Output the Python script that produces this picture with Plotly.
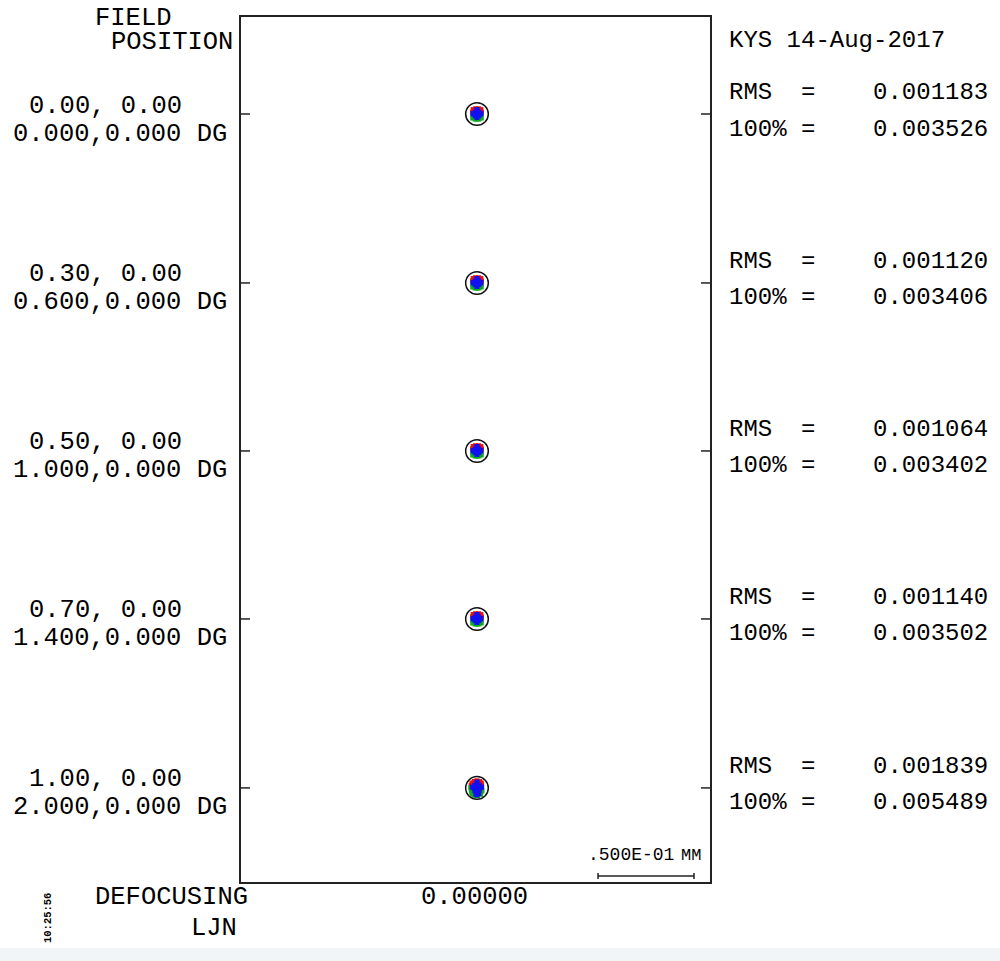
import plotly.graph_objects as go

# ---------------- data ----------------
FIELD_REL = ["0.00, 0.00", "0.30, 0.00", "0.50, 0.00", "0.70, 0.00", "1.00, 0.00"]
FIELD_DEG = ["0.000,0.000 DG", "0.600,0.000 DG", "1.000,0.000 DG", "1.400,0.000 DG", "2.000,0.000 DG"]
RMS_VALUES = ["0.001183", "0.001120", "0.001064", "0.001140", "0.001839"]
FULL_VALUES = ["0.003526", "0.003406", "0.003402", "0.003502", "0.005489"]
FIELD_Y_MM = [0.0, -0.0880, -0.1755, -0.2630, -0.3510]   # image-plane position of each spot
DEFOCUS_LABEL = "0.00000"
AIRY_RADIUS_MM = 0.0059
SCALE_BAR_MM = 0.05
SCALE_BAR_LABEL = ".500E-01"

# spot ray intercepts (microns, relative to spot centre) for fields 1-4
RED_A_X = [-2.0, -0.8, 0.8, 2.0, -2.3, 2.3, -1.0, 1.0, 0.0]
RED_A_Y = [2.3, 2.7, 2.7, 2.3, 1.0, 1.0, 1.6, 1.6, 0.6]
GREEN_A_X = [-2.2, -1.0, 0.0, 1.0, 2.2, -2.1, 2.1]
GREEN_A_Y = [-2.1, -2.6, -2.7, -2.6, -2.1, -0.9, -0.9]
BLUE_A_X = [0.0, -1.6, 1.6, 0.0, 0.0, -0.9, 0.9, -0.9, 0.9, -2.1, 2.1, 0.0]
BLUE_A_Y = [0.0, 0.0, 0.0, 1.8, -1.8, 0.9, 0.9, -0.9, -0.9, 0.2, 0.2, 2.3]
# spot ray intercepts (microns) for the full field
RED_B_X = [-2.6, -1.4, 0.0, 1.4, -3.0, -2.7, 2.4, 2.2]
RED_B_Y = [2.6, 3.4, 3.7, 3.3, 1.2, -0.4, 1.6, 2.6]
GREEN_B_X = [-2.8, -2.3, -1.2, 0.4, 1.9, -3.2, 2.6, -3.0]
GREEN_B_Y = [-2.2, -3.2, -3.9, -4.0, -3.3, 0.2, -1.6, -1.0]
BLUE_B_X = [0.0, -1.6, 1.6, 0.0, 0.0, -1.1, 1.1, -1.1, 1.1, -2.4, 2.4, 0.0, -0.6, 0.9, 0.0]
BLUE_B_Y = [0.0, 0.0, 0.0, 2.2, -2.2, 1.4, 1.4, -1.4, -1.4, 0.4, 0.4, 3.1, -3.2, -2.9, -3.6]

SPOT_SETS = [
    (RED_A_X, RED_A_Y, GREEN_A_X, GREEN_A_Y, BLUE_A_X, BLUE_A_Y),
    (RED_A_X, RED_A_Y, GREEN_A_X, GREEN_A_Y, BLUE_A_X, BLUE_A_Y),
    (RED_A_X, RED_A_Y, GREEN_A_X, GREEN_A_Y, BLUE_A_X, BLUE_A_Y),
    (RED_A_X, RED_A_Y, GREEN_A_X, GREEN_A_Y, BLUE_A_X, BLUE_A_Y),
    (RED_B_X, RED_B_Y, GREEN_B_X, GREEN_B_Y, BLUE_B_X, BLUE_B_Y),
]
WAVE_COLORS = ["#e81010", "#10a820", "#1010f0"]

# ---------------- layout geometry (pixels) ----------------
W, H = 1000, 961
PL, PR, PT, PB = 241, 710, 17, 882
PX_PER_MM = 1920.0
X0_PX = 477
X_RANGE = [(PL - X0_PX) / PX_PER_MM, (PR - X0_PX) / PX_PER_MM]
TOP_SPOT_PX = 114
Y_RANGE = [(TOP_SPOT_PX - PB) / PX_PER_MM, (TOP_SPOT_PX - PT) / PX_PER_MM]


def paper_x(px):
    return (px - PL) / (PR - PL)


def paper_y(py):
    return (PB - py) / (PB - PT)


def spot_px(k):
    return TOP_SPOT_PX - FIELD_Y_MM[k] * PX_PER_MM


fig = go.Figure()

for k, fy in enumerate(FIELD_Y_MM):
    rx, ry, gx, gy, bx, by = SPOT_SETS[k]
    for (xs, ys), col in zip([(rx, ry), (gx, gy), (bx, by)], WAVE_COLORS):
        fig.add_trace(go.Scatter(
            x=[v / 1000.0 for v in xs],
            y=[fy + v / 1000.0 for v in ys],
            mode="markers",
            marker=dict(color=col, size=5, symbol="square", line=dict(width=0)),
            showlegend=False, hoverinfo="skip"))

shapes = []
for k, fy in enumerate(FIELD_Y_MM):
    shapes.append(dict(type="circle", xref="x", yref="y",
                       x0=-AIRY_RADIUS_MM, x1=AIRY_RADIUS_MM,
                       y0=fy - AIRY_RADIUS_MM, y1=fy + AIRY_RADIUS_MM,
                       line=dict(color="#111111", width=1.5)))
    # tick marks on frame
    shapes.append(dict(type="line", xref="paper", yref="y", x0=0, x1=paper_x(PL + 9),
                       y0=fy, y1=fy, line=dict(color="#222222", width=1.5)))
    shapes.append(dict(type="line", xref="paper", yref="y", x0=paper_x(PR - 9), x1=1,
                       y0=fy, y1=fy, line=dict(color="#222222", width=1.5)))

# scale bar
sb_x0 = (598 - X0_PX) / PX_PER_MM
sb_y = (TOP_SPOT_PX - 876) / PX_PER_MM
cap = 3 / PX_PER_MM
shapes.append(dict(type="line", xref="x", yref="y", x0=sb_x0, x1=sb_x0 + SCALE_BAR_MM,
                   y0=sb_y, y1=sb_y, line=dict(color="#222222", width=1.5)))
for xe in (sb_x0, sb_x0 + SCALE_BAR_MM):
    shapes.append(dict(type="line", xref="x", yref="y", x0=xe, x1=xe,
                       y0=sb_y - cap, y1=sb_y + cap, line=dict(color="#222222", width=1.5)))

# bottom strip
shapes.append(dict(type="rect", xref="paper", yref="paper", layer="below",
                   x0=paper_x(0), x1=paper_x(W), y0=paper_y(H + 2), y1=paper_y(948),
                   fillcolor="#f2f5f7", line=dict(width=0)))

FONT = "Liberation Mono, Courier New, monospace"
ann = []


def text(s, x, y, size, xanchor="left", **kw):
    ann.append(dict(text=s.replace(" ", "\u00a0"), x=paper_x(x), y=paper_y(y), xref="paper", yref="paper",
                    xanchor=xanchor, yanchor="middle", showarrow=False,
                    font=dict(family=FONT, size=size, color="#000000"), **kw))


LS = 25.5
RS = 24
text("FIELD", 93, 18, LS)
text("POSITION", 109, 42, LS)
for k in range(5):
    sy = spot_px(k)
    text(FIELD_REL[k], 27, sy - 8, LS)
    text(FIELD_DEG[k], 11, sy + 20, LS)
    text("RMS  =    " + RMS_VALUES[k], 727, sy - 21, RS)
    text("100% =    " + FULL_VALUES[k], 727, sy + 15, RS)
text("KYS 14-Aug-2017", 727, 41, RS)
text("DEFOCUSING", 93, 897, LS)
text("LJN", 189, 928, LS)
text(DEFOCUS_LABEL, 474, 897, LS, xanchor="center")
text(SCALE_BAR_LABEL, 676, 855, 18, xanchor="right")
text("MM", 703, 855, 17, xanchor="right")
text("<b>10:25:56</b>", 48, 918, 10.5, xanchor="center", textangle=-90)

fig.update_layout(
    width=W, height=H,
    margin=dict(l=PL, r=W - PR, t=PT, b=H - PB, pad=0),
    paper_bgcolor="white", plot_bgcolor="white",
    xaxis=dict(range=X_RANGE, showgrid=False, zeroline=False, showticklabels=False, ticks="",
               showline=True, mirror=True, linecolor="#222222", linewidth=2),
    yaxis=dict(range=Y_RANGE, showgrid=False, zeroline=False, showticklabels=False, ticks="",
               showline=True, mirror=True, linecolor="#222222", linewidth=2),
    shapes=shapes, annotations=ann,
)

fig.write_html("out.html", config={"displayModeBar": False},
               post_script="document.body.style.margin='0';document.body.style.overflow='hidden';")
